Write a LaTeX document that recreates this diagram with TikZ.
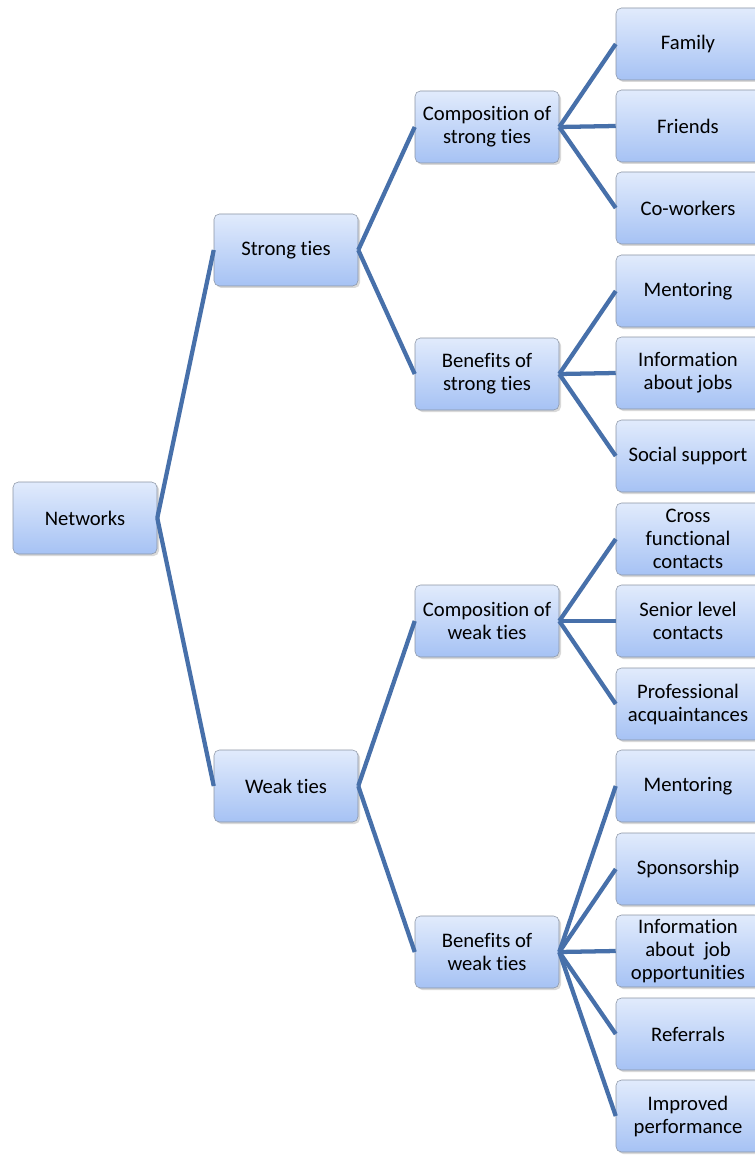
\documentclass[tikz,border=0pt]{standalone}
\usepackage{fontspec}
\setmainfont{Carlito}[Ligatures=NoCommon]
\usetikzlibrary{shadows}
\definecolor{linkblue}{HTML}{4770AA}
\definecolor{boxtop}{HTML}{E1EBFC}
\definecolor{boxbot}{HTML}{A6C2F4}
\definecolor{boxline}{HTML}{8A94A4}

\begin{document}
\begin{tikzpicture}[x=0.75pt, y=-0.75pt,
  box/.style={draw=boxline, rounded corners=4pt, top color=boxtop, bottom color=boxbot,
    minimum width=108pt, minimum height=54pt, inner sep=1pt, align=center,
    font=\fontsize{15.5}{17.25}\selectfont,
    drop shadow={opacity=0.3, shadow xshift=1.5pt, shadow yshift=-1.5pt}},
  link/.style={draw=linkblue, line width=3.2pt}]
  \useasboundingbox (0,0) rectangle (755,1155);
  % root and the two kinds of ties
  \node[box] (net) at (85,518) {Networks};
  \node[box] (strong) at (286,250) {Strong ties};
  \node[box] (weak) at (286,786) {Weak ties};
  % second level
  \node[box] (compS) at (487,127) {Composition of\\strong ties};
  \node[box] (benS) at (487,374) {Benefits of\\strong ties};
  \node[box] (compW) at (487,621) {Composition of\\weak ties};
  \node[box] (benW) at (487,952) {Benefits of\\weak ties};
  % leaves
  \foreach \name/\y/\txt in {family/44/{Family}, friends/126/{Friends}, cowork/208/{Co-workers},
      mentS/291/{Mentoring}, infoS/373/{Information\\about jobs}, social/456/{Social support},
      cross/539/{Cross\\functional\\contacts}, senior/621/{Senior level\\contacts},
      prof/704/{Professional\\acquaintances}, mentW/786/{Mentoring}, sponsor/869/{Sponsorship},
      infoW/951/{Information\\about~ job\\opportunities}, refer/1034/{Referrals},
      improv/1116/{Improved\\performance}}
    \node[box] (\name) at (688,\y) {\txt};
  % connectors
  \foreach \a/\b in {net/strong, net/weak, strong/compS, strong/benS, weak/compW, weak/benW,
      compS/family, compS/friends, compS/cowork, benS/mentS, benS/infoS, benS/social,
      compW/cross, compW/senior, compW/prof, benW/mentW, benW/sponsor, benW/infoW,
      benW/refer, benW/improv}
    \draw[link] (\a.east) -- (\b.west);
\end{tikzpicture}
\end{document}
